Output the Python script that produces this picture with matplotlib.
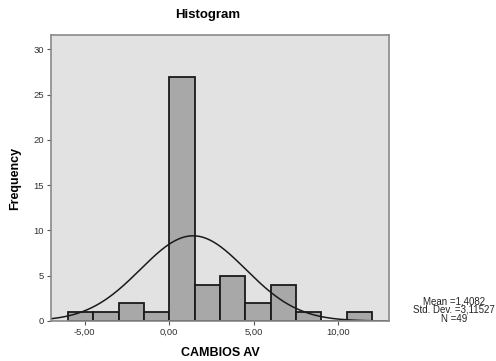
import numpy as np
import matplotlib
matplotlib.use('Agg')
import matplotlib.pyplot as plt

plt.rcParams['font.family'] = ['Liberation Sans', 'DejaVu Sans']

# Histogram bins (width 1,5) and counts
bin_edges = [-6.0, -4.5, -3.0, -1.5, 0.0, 1.5, 3.0, 4.5, 6.0, 7.5, 9.0, 10.5, 12.0]
counts = [1, 1, 2, 1, 27, 4, 5, 2, 4, 1, 0, 1]

# Summary stats printed by SPSS
mean = 1.4082
std_dev = 3.11527
n = 49

x_ticks = [-5, 0, 5, 10]
x_ticklabels = ["-5,00", "0,00", "5,00", "10,00"]
y_ticks = [0, 5, 10, 15, 20, 25, 30]

fig = plt.figure(figsize=(4.96, 3.61), dpi=100)
ax = fig.add_axes([51/496, 1 - 321/361, (389 - 51)/496, (321 - 35)/361])
ax.set_facecolor('#e2e2e2')

widths = np.diff(bin_edges)
ax.bar(bin_edges[:-1], counts, width=widths, align='edge',
       color='#a8a8a8', edgecolor='#1a1a1a', linewidth=1.3)

# normal curve scaled to counts
xs = np.linspace(-7, 13, 400)
bw = widths[0]
ys = n * bw / (std_dev * np.sqrt(2 * np.pi)) * np.exp(-0.5 * ((xs - mean) / std_dev) ** 2)
ax.plot(xs, ys, color='#1a1a1a', linewidth=1.1)

ax.set_xlim(-7, 13)
ax.set_ylim(0, 31.6)
ax.set_xticks(x_ticks)
ax.set_xticklabels(x_ticklabels)
ax.set_yticks(y_ticks)
ax.tick_params(axis='both', labelsize=6.8, length=3, width=0.8, color='#555555',
               labelcolor='#333333', pad=2)
for s in ax.spines.values():
    s.set_color('#8a8a8a')
    s.set_linewidth(1.2)

ax.set_xlabel("CAMBIOS AV", fontsize=9, fontweight='bold', labelpad=7)
ax.set_ylabel("Frequency", fontsize=9, fontweight='bold', labelpad=9)
fig.text(208/496, 1 - 15/361, "Histogram", fontsize=9.5, fontweight='bold',
         ha='center', va='center')

stats = "Mean =1,4082\nStd. Dev. =3,11527\nN =49"
fig.text(454/496, 1 - 310/361, stats, fontsize=7, ha='center', va='center',
         linespacing=0.85, color='#222222')

fig.savefig('out.png', dpi=100)
